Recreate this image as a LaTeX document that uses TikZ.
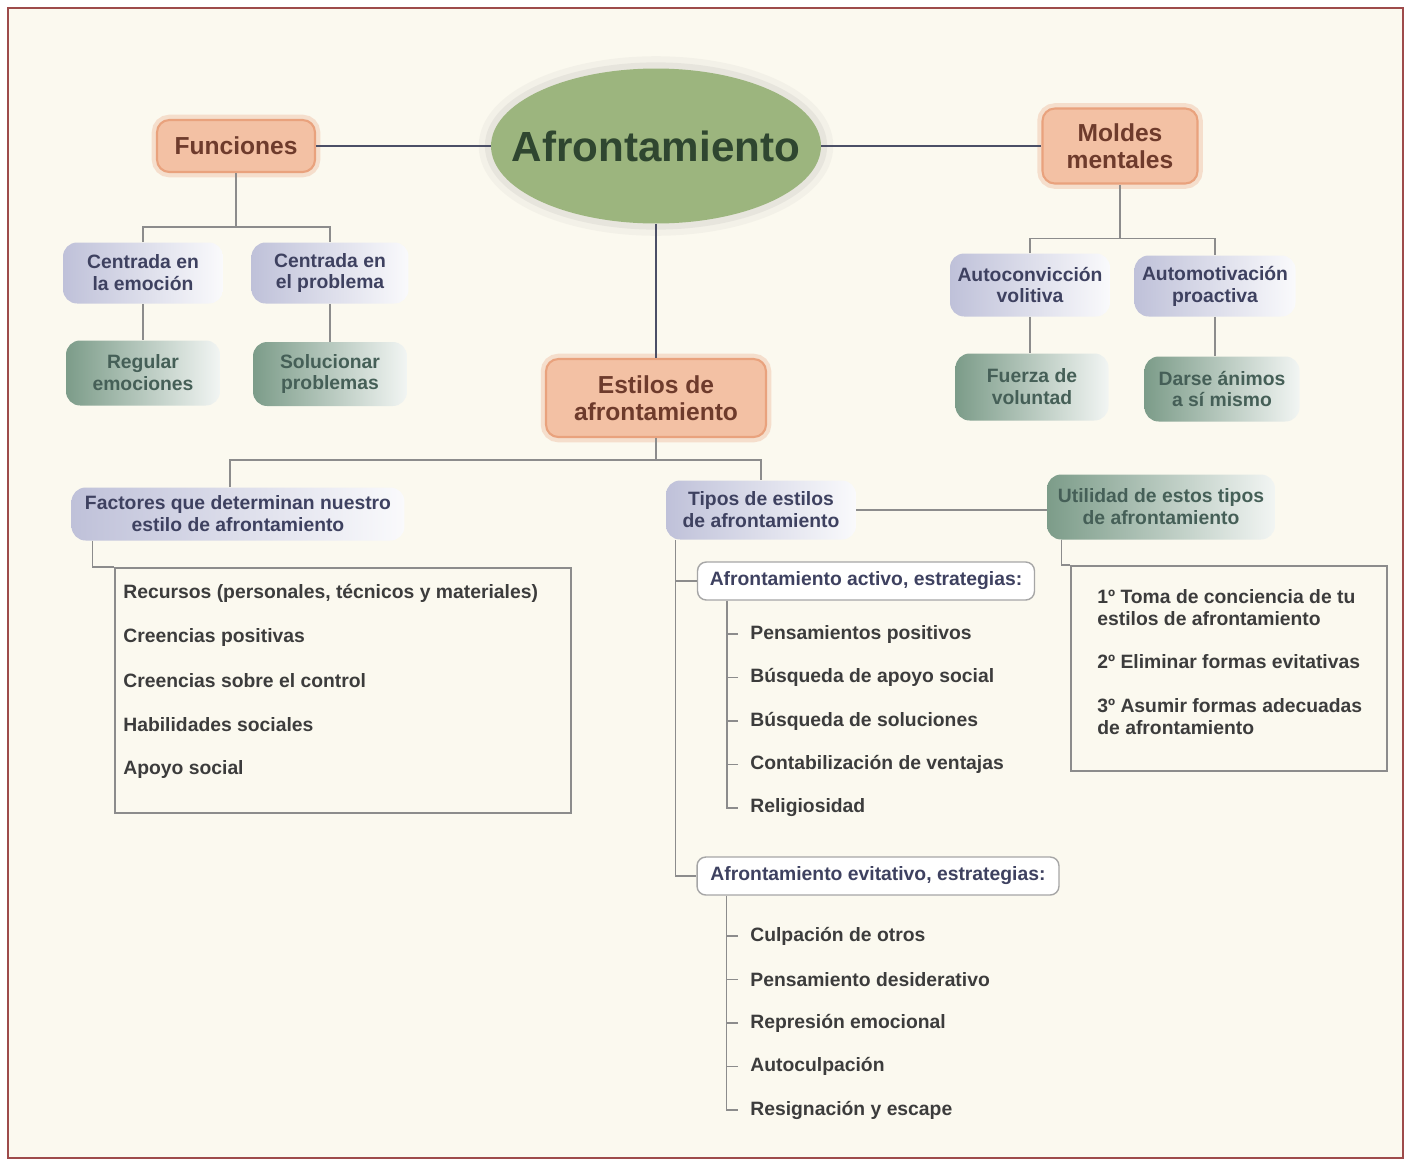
\documentclass[tikz,border=0pt]{standalone}
\usepackage{fontspec}
\setmainfont{Liberation Sans}
\usetikzlibrary{shapes.geometric}
\definecolor{fondo}{HTML}{FBF9EF}
\definecolor{marco}{HTML}{9E4B4B}
\definecolor{verde}{HTML}{9CB57E}
\definecolor{verdetxt}{HTML}{2F4630}
\definecolor{salmon}{HTML}{F3C1A4}
\definecolor{salmonborde}{HTML}{E9A27D}
\definecolor{cafe}{HTML}{6E3B2C}
\definecolor{lila}{HTML}{BFC1D9}
\definecolor{lilatxt}{HTML}{3E4160}
\definecolor{gris}{HTML}{7C9C89}
\definecolor{gristxt}{HTML}{455F57}
\definecolor{linea}{HTML}{4B4F66}
\definecolor{trazo}{HTML}{8C8C8C}
\definecolor{texto}{HTML}{3C3C3C}
\begin{document}
\begin{tikzpicture}[x=0.02cm,y=-0.02cm,
  principal/.style={ellipse,fill=verde,text=verdetxt,font=\bfseries\fontsize{24}{26}\selectfont,
    inner xsep=-0.56cm,minimum width=6.6cm,minimum height=3.1cm,
    preaction={draw=gray,line width=14pt,opacity=.06},preaction={draw=gray,line width=7pt,opacity=.1}},
  tema/.style={rectangle,rounded corners=7pt,fill=salmon,draw=salmonborde,line width=1.2pt,text=cafe,
    font=\bfseries\fontsize{14}{15.5}\selectfont,align=center,
    preaction={draw=salmonborde,line width=6pt,opacity=.3}},
  sub/.style={rectangle,rounded corners=8pt,left color=lila,right color=white!92!lila,text=lilatxt,
    font=\bfseries\fontsize{11}{12.5}\selectfont,align=center},
  hoja/.style={sub,left color=gris,right color=white!90!gris,text=gristxt},
  estrategia/.style={rectangle,rounded corners=5pt,draw=gray!70,line width=0.8pt,fill=white,text=lilatxt,
    font=\bfseries\fontsize{11}{12.5}\selectfont},
  lista/.style={anchor=west,text=texto,font=\bfseries\fontsize{11}{13}\selectfont,inner sep=0pt,align=left},
  caja/.style={rectangle,draw=trazo,line width=1pt},
  eje/.style={draw=linea,line width=1.4pt},
  conector/.style={draw=trazo,line width=0.9pt},
]
\useasboundingbox (0,0) rectangle (1405,1160);
\fill[white] (0,0) rectangle (1405,1160);
\draw[marco,fill=fondo,line width=1.2pt] (8,8) rectangle (1403,1158);

\node[principal] (afr) at (656,146) {Afrontamiento};
\node[tema,minimum width=3.16cm,minimum height=1.04cm] (fun) at (236,146) {Funciones};
\node[tema,minimum width=3.1cm,minimum height=1.5cm] (mol) at (1120,146) {Moldes\\mentales};
\node[tema,minimum width=4.4cm,minimum height=1.56cm] (est) at (656,398) {Estilos de\\afrontamiento};

\node[sub,minimum width=3.2cm,minimum height=1.22cm] (emo) at (143,273) {Centrada en\\la emoción};
\node[sub,minimum width=3.14cm,minimum height=1.22cm] (pro) at (330,273) {Centrada en\\el problema};
\node[hoja,minimum width=3.08cm,minimum height=1.3cm] (reg) at (143,373) {Regular\\emociones};
\node[hoja,minimum width=3.08cm,minimum height=1.28cm] (sol) at (330,374) {Solucionar\\problemas};

\node[sub,minimum width=3.2cm,minimum height=1.26cm] (conv) at (1030,285) {Autoconvicción\\volitiva};
\node[sub,minimum width=3.22cm,minimum height=1.22cm] (moti) at (1215,286) {Automotivación\\proactiva};
\node[hoja,minimum width=3.06cm,minimum height=1.34cm] (fue) at (1032,387) {Fuerza de\\voluntad};
\node[hoja,minimum width=3.1cm,minimum height=1.3cm] (dar) at (1222,389) {Darse ánimos\\a sí mismo};

\node[sub,minimum width=6.66cm,minimum height=1.06cm] (fac) at (238,514) {Factores que determinan nuestro\\estilo de afrontamiento};
\node[sub,minimum width=3.8cm,minimum height=1.18cm] (tip) at (761,510) {Tipos de estilos\\de afrontamiento};
\node[hoja,minimum width=4.56cm,minimum height=1.3cm] (uti) at (1161,507) {Utilidad de estos tipos\\de afrontamiento};

\node[estrategia,minimum width=6.74cm,minimum height=0.76cm] (act) at (866,581) {Afrontamiento activo, estrategias:};
\node[estrategia,minimum width=7.24cm,minimum height=0.76cm] (evi) at (878,876) {Afrontamiento evitativo, estrategias:};

\node[caja,minimum width=9.12cm,minimum height=4.9cm] (cfac) at (343,690.5) {};
\node[caja,minimum width=6.32cm,minimum height=4.1cm] (cuti) at (1229,668.5) {};

\foreach \t [count=\i] in {{Recursos (personales, técnicos y materiales)},Creencias positivas,Creencias sobre el control,Habilidades sociales,Apoyo social}
  \node[lista] (f\i) at (123,{549+44*\i}) {\t};

\node[lista] (u1) at (1097,607.5) {1º Toma de conciencia de tu\\estilos de afrontamiento};
\node[lista] (u2) at (1097,662) {2º Eliminar formas evitativas};
\node[lista] (u3) at (1097,716.5) {3º Asumir formas adecuadas\\de afrontamiento};

\foreach \t [count=\i] in {Pensamientos positivos,Búsqueda de apoyo social,Búsqueda de soluciones,Contabilización de ventajas,Religiosidad}
  \node[lista] (a\i) at (750,{590.5+43.5*\i}) {\t};
\foreach \t [count=\i] in {Culpación de otros,Pensamiento desiderativo,Represión emocional,Autoculpación,Resignación y escape}
  \node[lista] (e\i) at (750,{892.5+43.5*\i}) {\t};

\draw[eje] (fun) -- (afr);
\draw[eje] (afr) -- (mol);
\draw[eje] (afr) -- (est);

\draw[conector] (fun.south) -- ++(0,54) coordinate (fb);
\draw[conector] (emo.north) |- (fb) -| (pro.north);
\draw[conector] (emo) -- (reg);
\draw[conector] (pro) -- (sol);

\draw[conector] (mol.south) -- ++(0,54) coordinate (mb);
\draw[conector] (conv.north) |- (mb) -| (moti.north);
\draw[conector] (conv.south) -- (conv.south |- fue.north);
\draw[conector] (moti.south) -- (moti.south |- dar.north);

\draw[conector] (est.south) -- ++(0,22) coordinate (eb);
\draw[conector] ([xshift=-0.16cm]fac.north) |- (eb) -| (tip.north);
\draw[conector] ([xshift=0.43cm]fac.south west) |- (cfac.north west);
\draw[conector] (tip.east) -- (tip.east -| uti.west);
\draw[conector] ([xshift=0.3cm]uti.south west) |- (cuti.north west);

\coordinate (tv) at ([xshift=0.2cm]tip.south west);
\draw[conector] (tv) |- (evi.west);
\draw[conector] (act.west) -- (act.west -| tv);

\draw[conector] ([xshift=0.6cm]act.south west) coordinate (av) |- ([xshift=-0.24cm]a5.west);
\foreach \i in {1,...,4}
  \draw[conector] ([xshift=-0.24cm]a\i.west) -- (a\i.west -| av);
\draw[conector] ([xshift=0.6cm]evi.south west) coordinate (ev) |- ([xshift=-0.24cm]e5.west);
\foreach \i in {1,...,4}
  \draw[conector] ([xshift=-0.24cm]e\i.west) -- (e\i.west -| ev);
\end{tikzpicture}
\end{document}
